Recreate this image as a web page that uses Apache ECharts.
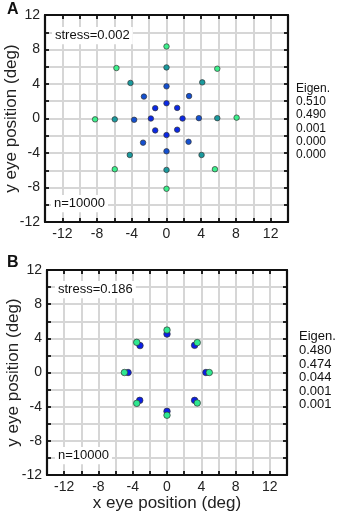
<!DOCTYPE html>
<html>
<head>
<meta charset="UTF-8">
<title>eye position</title>
<script src="https://cdn.jsdelivr.net/npm/echarts@6/dist/echarts.min.js"></script>
<style>
body { margin: 0; padding: 0; background: #fff; }
#main { width: 337px; height: 517px; }
</style>
</head>
<body>
<div id="main"></div>
<script>
// panel A rings, inner to outer  [x, y] in deg
var ringA1 = [[0,1.77],[1.23,1.23],[1.85,0],[1.23,-1.3],[0,-1.92],[-1.3,-1.38],[-1.8,0],[-1.3,1.2]];
var ringA2 = [[0,3.73],[2.6,2.6],[3.73,0.04],[2.54,-2.7],[0,-3.8],[-2.7,-2.8],[-3.73,-0.15],[-2.6,2.54]];
var ringA3 = [[0,5.92],[4.12,4.19],[5.85,0.04],[4.04,-4.23],[0,-5.96],[-4.23,-4.23],[-5.96,-0.1],[-4.15,4.12]];
var ringA4 = [[0,8.35],[5.85,5.77],[8.08,0.1],[5.58,-5.88],[0,-8.15],[-5.96,-5.88],[-8.23,-0.1],[-5.77,5.85]];
// panel B
var blueB  = [[0,4.5],[3.22,3.18],[4.54,0],[3.22,-3.26],[0,-4.54],[-3.18,-3.26],[-4.54,0],[-3.15,3.15]];
var greenB = [[0,4.97],[3.53,3.5],[4.93,0],[3.53,-3.57],[0,-5.0],[-3.53,-3.61],[-4.97,0],[-3.53,3.53]];

var eigenA = ['0.510', '0.490', '0.001', '0.000', '0.000'];
var eigenB = ['0.480', '0.474', '0.044', '0.001', '0.001'];
var stressA = '0.002', stressB = '0.186';
var nA = '10000', nB = '10000';

var FONT = 'Liberation Sans';
var chart = echarts.init(document.getElementById('main'));

function label4(v) { return (v % 4 === 0) ? String(v) : ''; }

function xAx(g, pos, name) {
    return {
        type: 'value', gridIndex: g, position: pos, min: -14, max: 14, interval: 2,
        name: name || '', nameLocation: 'middle', nameGap: 20, nameMoveOverlap: false,
        nameTextStyle: { fontSize: 17, color: '#222', fontFamily: FONT },
        axisLine: { onZero: false, lineStyle: { color: '#111', width: 2.2 } },
        axisTick: { inside: true, length: 4, lineStyle: { color: '#111', width: 1.8 } },
        axisLabel: { show: pos === 'bottom', formatter: label4, fontSize: 14, color: '#222', fontFamily: FONT, margin: 5 },
        splitLine: { show: pos === 'bottom', lineStyle: { color: '#d6d6d6', width: 2 } }
    };
}
function yAx(g, pos) {
    return {
        type: 'value', gridIndex: g, position: pos, min: -12, max: 12, interval: 2,
        name: pos === 'left' ? 'y eye position (deg)' : '', nameLocation: 'middle', nameGap: 25, nameMoveOverlap: false,
        nameTextStyle: { fontSize: 17, color: '#222', fontFamily: FONT },
        axisLine: { onZero: false, lineStyle: { color: '#111', width: 2.2 } },
        axisTick: { inside: true, length: 4, lineStyle: { color: '#111', width: 1.8 } },
        axisLabel: { show: pos === 'left', formatter: label4, fontSize: 14, color: '#222', fontFamily: FONT, margin: 5 },
        splitLine: { show: pos === 'left', lineStyle: { color: '#d6d6d6', width: 2 } }
    };
}
function dots(data, color, xi, yi, size) {
    return {
        type: 'scatter', xAxisIndex: xi, yAxisIndex: yi, data: data,
        symbolSize: size, itemStyle: { color: color, borderColor: '#333', borderWidth: 0.7, opacity: 1 }
    };
}
function txt(x, y, s, size, bg, lh) {
    return {
        type: 'text', left: x, top: y, z: 100,
        style: { text: s, fontSize: size, fill: '#111', fontFamily: FONT,
                 backgroundColor: bg ? '#fff' : null, padding: bg ? [2, 3] : 0, lineHeight: lh || 13.2 }
    };
}

chart.setOption({
    animation: false,
    grid: [
        { left: 45, top: 15, width: 243, height: 207, outerBoundsMode: 'none' },
        { left: 47, top: 270, width: 240, height: 205, outerBoundsMode: 'none' }
    ],
    xAxis: [xAx(0, 'bottom'), xAx(0, 'top'), xAx(1, 'bottom', 'x eye position (deg)'), xAx(1, 'top')],
    yAxis: [yAx(0, 'left'), yAx(0, 'right'), yAx(1, 'left'), yAx(1, 'right')],
    series: [
        dots(ringA4, '#3cf08c', 0, 0, 5.5),
        dots(ringA3, '#1a9a9e', 0, 0, 5.5),
        dots(ringA2, '#1450d0', 0, 0, 5.5),
        dots(ringA1, '#0a28e6', 0, 0, 5.5),
        dots(blueB, '#0a1ee8', 2, 2, 6.5),
        dots(greenB, '#2ee890', 2, 2, 6.5)
    ],
    graphic: [
        { type: 'text', left: 7, top: 2, style: { text: 'A', fontSize: 16, fontWeight: 'bold', fill: '#111', fontFamily: FONT } },
        { type: 'text', left: 7, top: 255, style: { text: 'B', fontSize: 16, fontWeight: 'bold', fill: '#111', fontFamily: FONT } },
        txt(52, 27, 'stress=' + stressA, 13, true),
        txt(51, 195, 'n=' + nA, 13, true),
        txt(55, 281, 'stress=' + stressB, 13, true),
        txt(55, 447, 'n=' + nB, 13, true),
        txt(296, 82, 'Eigen.\n' + eigenA.join('\n'), 12, false, 13.2),
        txt(299, 330, 'Eigen.\n' + eigenB.join('\n'), 13, false, 13.6)
    ]
});
</script>
</body>
</html>
